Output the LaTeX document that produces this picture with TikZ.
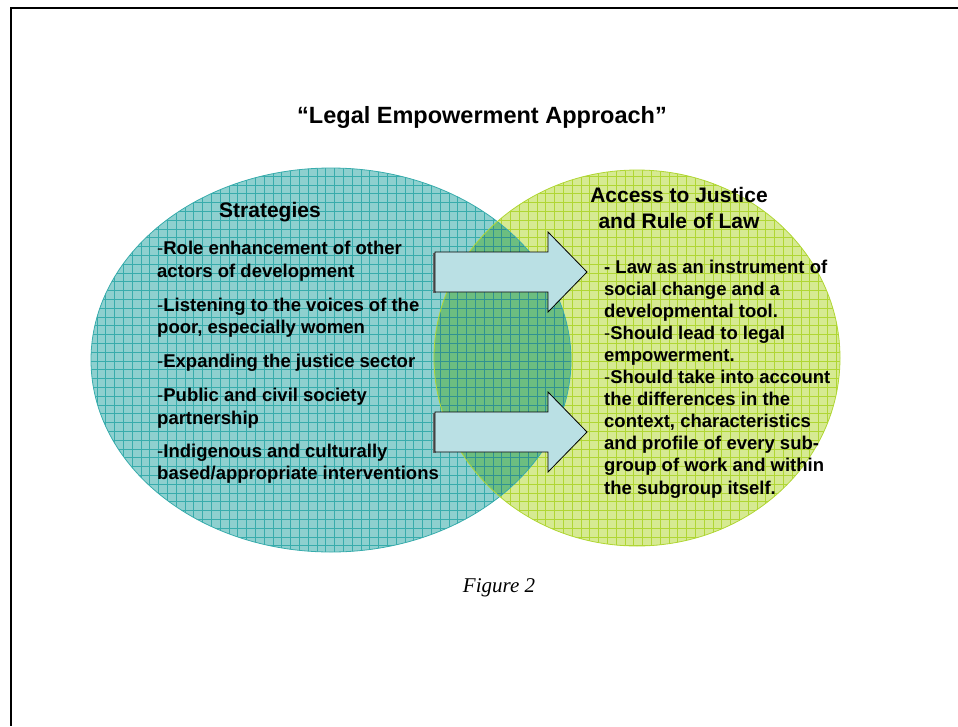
\documentclass[tikz,border=0pt]{standalone}
\usepackage{fontspec}
\setmainfont{Liberation Sans}
\newfontfamily\figfont{Liberation Serif}
\usetikzlibrary{positioning}
\definecolor{TealFill}{RGB}{142,208,207}
\definecolor{TealLine}{RGB}{56,172,172}
\definecolor{LimeFill}{RGB}{214,234,146}
\definecolor{LimeLine}{RGB}{176,214,52}
\definecolor{MixFill}{RGB}{108,190,128}
\definecolor{ArrowFill}{RGB}{186,224,228}

\tikzset{
	heading/.style={font=\bfseries\fontsize{21}{26}\selectfont, inner sep=0pt},
	bodytext/.style={font=\bfseries\fontsize{18.5}{22.1}\selectfont, align=left, inner sep=0pt, anchor=north west},
	blockarrow/.style={fill=ArrowFill, draw=black, line width=0.8pt, line join=miter}
}

\begin{document}
\begin{tikzpicture}[x=1pt, y=-1pt]
	\useasboundingbox (0,0) rectangle (958,726);
	% page frame, open on the right and at the bottom
	\draw[line width=2.6pt] (958,8) -- (11,8) -- (11,726);

	% left set
	\begin{scope}
		\clip (331,360) ellipse [x radius=240, y radius=192];
		\fill[TealFill] (80,160) rectangle (580,560);
		\draw[TealLine, line width=0.5pt, step=8.8pt] (80,160) grid (580,560);
	\end{scope}
	% right set
	\begin{scope}
		\clip (637,358) ellipse [x radius=203, y radius=188];
		\fill[LimeFill] (430,160) rectangle (850,560);
		\draw[LimeLine, line width=0.5pt, step=8.8pt] (430,160) grid (850,560);
		% overlap of both sets
		\clip (331,360) ellipse [x radius=240, y radius=192];
		\fill[MixFill] (430,160) rectangle (580,560);
		\draw[TealLine!85!black, line width=0.5pt, step=8.8pt] (430,160) grid (580,560);
	\end{scope}
	\draw[TealLine, line width=0.8pt] (331,360) ellipse [x radius=240, y radius=192];
	\draw[LimeLine, line width=0.8pt] (637,358) ellipse [x radius=203, y radius=188];

	% the two block arrows
	\foreach \ay in {272,432} {
		\fill[black!60] (433,\ay-19) -- (433,\ay+21) -- (436,\ay+21) -- (436,\ay-19) -- cycle;
		\draw[blockarrow] (435,\ay-20) -- (548,\ay-20) -- (548,\ay-40) -- (587,\ay)
			-- (548,\ay+40) -- (548,\ay+20) -- (435,\ay+20) -- cycle;
	}

	\node[heading, font=\bfseries\fontsize{23.5}{28}\selectfont, anchor=base] (title) at (482,123.5) {“Legal Empowerment Approach”};
	\node[heading, anchor=base] (strat) at (270,217.5) {Strategies};
	\node[heading, align=center, anchor=north] (access) at (679,187.5) {Access to Justice\\and Rule of Law};

	\node[bodytext] (stratlist) at (157,241.3) {%
		\textmd{-}Role enhancement of other\\ actors of development\\[12pt]
		\textmd{-}Listening to the voices of the\\ poor, especially women\\[12pt]
		\textmd{-}Expanding the justice sector\\[12.5pt]
		\textmd{-}Public and civil society\\ partnership\\[11pt]
		\textmd{-}Indigenous and culturally\\ based/appropriate interventions};

	\node[bodytext] (accesslist) at (604,259.4) {%
		- Law as an instrument of\\ social change and a\\ developmental tool.\\
		\textmd{-}Should lead to legal\\ empowerment.\\
		\textmd{-}Should take into account\\ the differences in the\\ context, characteristics\\
		and profile of every sub-\\ group of work and within\\ the subgroup itself.};

	\node[font=\figfont\itshape\fontsize{21}{25}\selectfont, anchor=base, inner sep=0pt] (caption) at (499,592) {Figure 2};
\end{tikzpicture}
\end{document}
